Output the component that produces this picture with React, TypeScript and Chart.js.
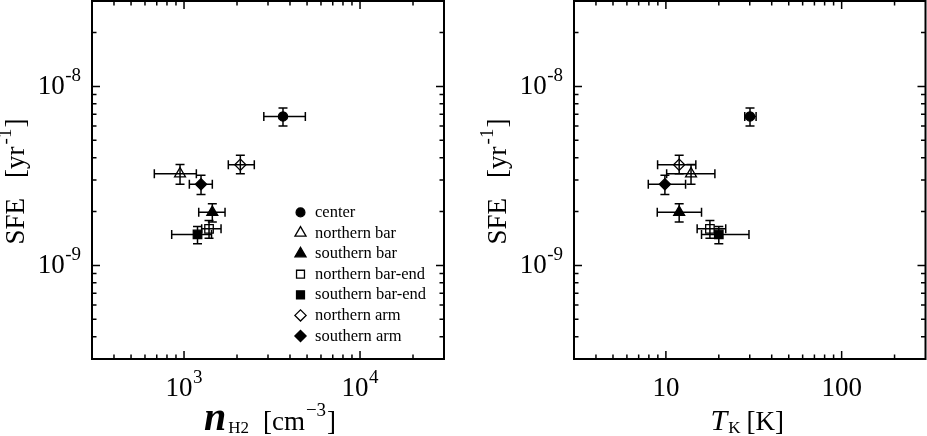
import React, { useEffect, useRef } from 'react';
import { Chart, registerables } from 'chart.js';
import { drawPoint } from 'chart.js/helpers';

Chart.register(...registerables);

// ---------------- data ----------------
const regions = ['center', 'northern bar', 'southern bar', 'northern bar-end', 'southern bar-end', 'northern arm', 'southern arm'];
const markerStyles = ['circle', 'triangle', 'triangle', 'rect', 'rect', 'rectRot', 'rectRot'];
const markerFilled = [true, false, true, false, true, false, true];

const sfe = [6.8e-9, 3.25e-9, 1.98e-9, 1.6e-9, 1.49e-9, 3.65e-9, 2.84e-9];
const sfeLow = [6.0e-9, 2.84e-9, 1.75e-9, 1.42e-9, 1.32e-9, 3.25e-9, 2.49e-9];
const sfeHigh = [7.57e-9, 3.66e-9, 2.21e-9, 1.78e-9, 1.65e-9, 4.12e-9, 3.19e-9];

const nH2 = [3650, 949, 1448, 1387, 1193, 2089, 1249];
const nH2Low = [2840, 678, 1212, 1260, 851, 1785, 1072];
const nH2High = [4890, 1175, 1710, 1623, 1433, 2508, 1448];

const tK = [30.1, 13.9, 11.9, 17.8, 20.0, 11.9, 9.87];
const tKLow = [28.1, 10.1, 8.93, 15.06, 15.95, 8.97, 7.94];
const tKHigh = [32.6, 19.0, 15.95, 21.9, 29.7, 14.8, 12.94];

const yRange = [3e-10, 3e-8];
const leftXRange = [300, 30000];
const rightXRange = [3, 300];

const yTickValues = [1e-9, 1e-8];
const yTickBase = ['10', '10'];
const yTickSup = ['-9', '-8'];
const leftXTickValues = [1e3, 1e4];
const leftXTickBase = ['10', '10'];
const leftXTickSup = ['3', '4'];
const rightXTickValues = [10, 100];
const rightXTickBase = ['10', '100'];
const rightXTickSup = ['', ''];

// ---------------- styling ----------------
const SERIF = '"Liberation Serif", "Times New Roman", serif';
const radiusByStyle: Record<string, number> = { circle: 4.6, triangle: 6.3, rect: 6.0, rectRot: 5.6 };
const legendRadiusByStyle: Record<string, number> = { circle: 4.4, triangle: 6.4, rect: 5.6, rectRot: 5.6 };

type Seg = { t: string; size: number; style?: string; dy?: number; gap?: number };

function segFont(s: Seg) {
  return `${s.style ? s.style + ' ' : ''}${s.size}px ${SERIF}`;
}
function richWidth(ctx: CanvasRenderingContext2D, segs: Seg[]) {
  let w = 0;
  for (const s of segs) {
    ctx.font = segFont(s);
    w += (s.gap || 0) + ctx.measureText(s.t).width;
  }
  return w;
}
function drawRich(ctx: CanvasRenderingContext2D, segs: Seg[], x: number, y: number) {
  let cx = x;
  for (const s of segs) {
    cx += s.gap || 0;
    ctx.font = segFont(s);
    ctx.fillText(s.t, cx, y + (s.dy || 0));
    cx += ctx.measureText(s.t).width;
  }
}

function logTicks(min: number, max: number) {
  const out: { v: number; major: boolean }[] = [];
  const d0 = Math.floor(Math.log10(min));
  const d1 = Math.ceil(Math.log10(max));
  for (let d = d0; d <= d1; d++) {
    for (let m = 1; m <= 9; m++) {
      const v = m * Math.pow(10, d);
      if (v > min * 1.0001 && v < max * 0.9999) out.push({ v, major: m === 1 });
    }
  }
  return out;
}

type PanelCfg = {
  xRange: number[];
  xTickValues: number[];
  xTickBase: string[];
  xTickSup: string[];
  xTitle: Seg[];
  xTitleOffset: number;
  legend: boolean;
};

const yTitle: Seg[] = [
  { t: 'SFE', size: 27 },
  { t: '[yr', size: 27, gap: 20 },
  { t: '-1', size: 19, dy: -13, gap: 2 },
  { t: ']', size: 27, gap: 1 },
];

function makePlugin(cfg: PanelCfg) {
  return {
    id: 'frameDecor',
    beforeDatasetsDraw(chart: any) {
      const ctx: CanvasRenderingContext2D = chart.ctx;
      const xs = chart.scales.x;
      const ys = chart.scales.y;
      const cap = 4.5;
      ctx.save();
      ctx.strokeStyle = '#000';
      ctx.lineWidth = 1.5;
      chart.data.datasets.forEach((ds: any) => {
        ds.data.forEach((p: any) => {
          const x = xs.getPixelForValue(p.x);
          const y = ys.getPixelForValue(p.y);
          const x1 = xs.getPixelForValue(p.xMin);
          const x2 = xs.getPixelForValue(p.xMax);
          const y1 = ys.getPixelForValue(p.yMax);
          const y2 = ys.getPixelForValue(p.yMin);
          ctx.beginPath();
          ctx.moveTo(x1, y); ctx.lineTo(x2, y);
          ctx.moveTo(x1, y - cap); ctx.lineTo(x1, y + cap);
          ctx.moveTo(x2, y - cap); ctx.lineTo(x2, y + cap);
          ctx.moveTo(x, y1); ctx.lineTo(x, y2);
          ctx.moveTo(x - cap, y1); ctx.lineTo(x + cap, y1);
          ctx.moveTo(x - cap, y2); ctx.lineTo(x + cap, y2);
          ctx.stroke();
        });
      });
      ctx.restore();
    },
    afterDatasetsDraw(chart: any) {
      const ctx: CanvasRenderingContext2D = chart.ctx;
      const xs = chart.scales.x;
      const ys = chart.scales.y;
      const ca = chart.chartArea;
      ctx.save();
      ctx.strokeStyle = '#000';
      ctx.fillStyle = '#000';

      // inward ticks on all four sides
      ctx.lineWidth = 1.5;
      ctx.beginPath();
      for (const t of logTicks(cfg.xRange[0], cfg.xRange[1])) {
        const px = xs.getPixelForValue(t.v);
        const len = t.major ? 8 : 4.5;
        ctx.moveTo(px, ca.bottom); ctx.lineTo(px, ca.bottom - len);
        ctx.moveTo(px, ca.top); ctx.lineTo(px, ca.top + len);
      }
      for (const t of logTicks(yRange[0], yRange[1])) {
        const py = ys.getPixelForValue(t.v);
        const len = t.major ? 8 : 4.5;
        ctx.moveTo(ca.left, py); ctx.lineTo(ca.left + len, py);
        ctx.moveTo(ca.right, py); ctx.lineTo(ca.right - len, py);
      }
      ctx.stroke();

      // frame
      ctx.lineWidth = 2;
      ctx.strokeRect(ca.left, ca.top, ca.right - ca.left, ca.bottom - ca.top);

      ctx.textAlign = 'left';
      ctx.textBaseline = 'alphabetic';

      // y tick labels
      yTickValues.forEach((v, i) => {
        const py = ys.getPixelForValue(v);
        const segs: Seg[] = [{ t: yTickBase[i], size: 27 }, { t: yTickSup[i], size: 19, dy: -13, gap: 0.5 }];
        const w = richWidth(ctx, segs);
        drawRich(ctx, segs, ca.left - 11 - w, py + 7.5);
      });

      // x tick labels
      cfg.xTickValues.forEach((v, i) => {
        const px = xs.getPixelForValue(v);
        const segs: Seg[] = [{ t: cfg.xTickBase[i], size: 27 }];
        if (cfg.xTickSup[i]) segs.push({ t: cfg.xTickSup[i], size: 19, dy: -13, gap: 0.5 });
        const w = richWidth(ctx, segs);
        drawRich(ctx, segs, px - w / 2, ca.bottom + 37);
      });

      // x title
      {
        const w = richWidth(ctx, cfg.xTitle);
        const cx = (ca.left + ca.right) / 2 + cfg.xTitleOffset;
        drawRich(ctx, cfg.xTitle, cx - w / 2, ca.bottom + 71);
      }

      // y title (rotated)
      {
        const w = richWidth(ctx, yTitle);
        ctx.save();
        ctx.translate(ca.left - 68, (ca.top + ca.bottom) / 2 + 1.5);
        ctx.rotate(-Math.PI / 2);
        drawRich(ctx, yTitle, -w / 2, 0);
        ctx.restore();
      }

      // legend
      if (cfg.legend) {
        const markerX = ca.right - 143.5;
        const textX = ca.right - 129;
        const lastY = ca.bottom - 23;
        const step = 20.6;
        const n = chart.data.datasets.length;
        chart.data.datasets.forEach((ds: any, i: number) => {
          const rowY = lastY - (n - 1 - i) * step;
          ctx.save();
          ctx.lineWidth = 1.3;
          ctx.strokeStyle = '#000';
          ctx.fillStyle = ds.backgroundColor;
          drawPoint(ctx, {
            pointStyle: ds.pointStyle,
            radius: legendRadiusByStyle[ds.pointStyle],
            rotation: 0,
            borderWidth: 1.3,
          } as any, markerX, rowY);
          ctx.restore();
          ctx.fillStyle = '#000';
          ctx.font = `16.5px ${SERIF}`;
          ctx.fillText(ds.label, textX, rowY + 4.5);
        });
      }
      ctx.restore();
    },
  };
}

function buildDatasets(xv: number[], xl: number[], xh: number[]) {
  return regions.map((name, i) => ({
    label: name,
    data: [{ x: xv[i], y: sfe[i], xMin: xl[i], xMax: xh[i], yMin: sfeLow[i], yMax: sfeHigh[i] }],
    pointStyle: markerStyles[i],
    pointRadius: radiusByStyle[markerStyles[i]],
    pointHoverRadius: radiusByStyle[markerStyles[i]],
    backgroundColor: markerFilled[i] ? '#000' : 'rgba(0,0,0,0)',
    borderColor: '#000',
    borderWidth: 1.3,
  }));
}

function makeConfig(
  xv: number[], xl: number[], xh: number[], cfg: PanelCfg,
  padding: { left: number; right: number; top: number; bottom: number }
): any {
  return {
    type: 'scatter',
    data: { datasets: buildDatasets(xv, xl, xh) },
    options: {
      animation: false,
      responsive: false,
      devicePixelRatio: 1,
      events: [],
      layout: { padding, autoPadding: false },
      scales: {
        x: { type: 'logarithmic', min: cfg.xRange[0], max: cfg.xRange[1], display: false },
        y: { type: 'logarithmic', min: yRange[0], max: yRange[1], display: false },
      },
      plugins: { legend: { display: false }, tooltip: { enabled: false } },
    },
    plugins: [makePlugin(cfg)],
  };
}

const leftCfg: PanelCfg = {
  xRange: leftXRange,
  xTickValues: leftXTickValues,
  xTickBase: leftXTickBase,
  xTickSup: leftXTickSup,
  xTitle: [
    { t: 'n', size: 40, style: 'italic bold' },
    { t: 'H2', size: 17, dy: 3, gap: 2 },
    { t: '[cm', size: 27, gap: 14 },
    { t: '\u22123', size: 19, dy: -14, gap: 1 },
    { t: ']', size: 27, gap: 1 },
  ],
  xTitleOffset: 2,
  legend: true,
};

const rightCfg: PanelCfg = {
  xRange: rightXRange,
  xTickValues: rightXTickValues,
  xTickBase: rightXTickBase,
  xTickSup: rightXTickSup,
  xTitle: [
    { t: 'T', size: 30, style: 'italic' },
    { t: 'K', size: 17, dy: 3, gap: 1 },
    { t: '[K]', size: 27, gap: 6 },
  ],
  xTitleOffset: -2.5,
  legend: false,
};

export default function App() {
  const leftRef = useRef<HTMLCanvasElement>(null);
  const rightRef = useRef<HTMLCanvasElement>(null);

  useEffect(() => {
    const c1 = new Chart(leftRef.current as HTMLCanvasElement,
      makeConfig(nH2, nH2Low, nH2High, leftCfg, { left: 92, right: 19, top: 1, bottom: 77 }));
    const c2 = new Chart(rightRef.current as HTMLCanvasElement,
      makeConfig(tK, tKLow, tKHigh, rightCfg, { left: 111, right: 1.5, top: 1, bottom: 77 }));
    return () => {
      c1.destroy();
      c2.destroy();
    };
  }, []);

  return (
    <div style={{ position: 'fixed', left: 0, top: 0, width: 927, height: 436, background: '#fff', overflow: 'hidden' }}>
      <canvas ref={leftRef} width={463} height={436} style={{ position: 'absolute', left: 0, top: 0, width: 463, height: 436 }} />
      <canvas ref={rightRef} width={464} height={436} style={{ position: 'absolute', left: 463, top: 0, width: 464, height: 436 }} />
    </div>
  );
}
